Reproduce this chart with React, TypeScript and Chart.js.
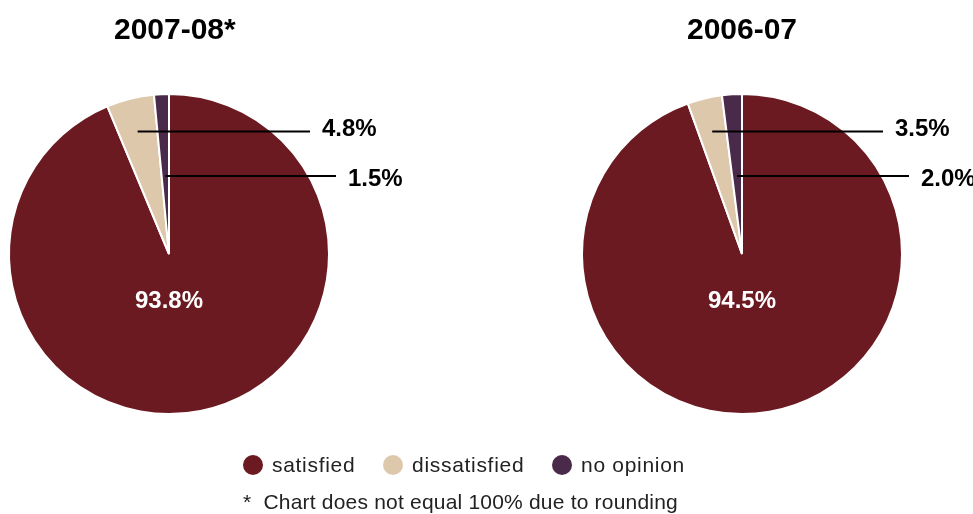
import React, { useEffect, useRef } from "react";
import { Chart, registerables } from "chart.js";

Chart.register(...registerables);

const categories = ["satisfied", "dissatisfied", "no opinion"];
const values0708 = [93.8, 4.8, 1.5];
const values0607 = [94.5, 3.5, 2.0];
const labels0708 = ["93.8%", "4.8%", "1.5%"];
const labels0607 = ["94.5%", "3.5%", "2.0%"];
const titles = ["2007-08*", "2006-07"];
const colors = ["#6B1A22", "#DEC8AC", "#4A2A4A"];
const footnote = "*  Chart does not equal 100% due to rounding";

const FONT = "'Liberation Sans', Arial, Helvetica, sans-serif";

// layout constants
const leaderY = [131.5, 176]; // y of leader lines for slice 1 and 2
const leaderEndDx = [141, 167]; // end of leader line relative to pie centre
const textDy = [-2, 3];
const textGap = 12;

function makePlugin(title: string, labels: string[]) {
  return {
    id: "annot",
    afterDraw(chart: any) {
      const ctx = chart.ctx;
      const meta = chart.getDatasetMeta(0);
      const arc0 = meta.data[0];
      const cx = arc0.x;
      const cy = arc0.y;
      ctx.save();
      // title
      ctx.fillStyle = "#000";
      ctx.font = `bold 30px ${FONT}`;
      ctx.textBaseline = "alphabetic";
      ctx.textAlign = "left";
      const core = title.replace(/\*$/, "");
      const w = ctx.measureText(core).width;
      ctx.fillText(title, cx - w / 2, 39);
      // centre label
      ctx.fillStyle = "#fff";
      ctx.font = `bold 24px ${FONT}`;
      ctx.textAlign = "center";
      ctx.textBaseline = "middle";
      ctx.fillText(labels[0], cx, cy + 47);
      // leaders
      for (let i = 1; i <= 2; i++) {
        const a: any = meta.data[i];
        const yL = leaderY[i - 1];
        const dy = yL - cy;
        const xs = [a.startAngle, a.endAngle].map(
          (ang: number) => cx + (dy * Math.cos(ang)) / Math.sin(ang)
        );
        const x0 = (xs[0] + xs[1]) / 2;
        const x1 = cx + leaderEndDx[i - 1];
        ctx.strokeStyle = "#000";
        ctx.lineWidth = 2;
        ctx.beginPath();
        ctx.moveTo(x0, yL);
        ctx.lineTo(x1, yL);
        ctx.stroke();
        ctx.fillStyle = "#000";
        ctx.font = `bold 24px ${FONT}`;
        ctx.textAlign = "left";
        ctx.textBaseline = "middle";
        ctx.fillText(labels[i], x1 + textGap, yL + textDy[i - 1]);
      }
      ctx.restore();
    },
  };
}

function PieChart(props: {
  values: number[];
  labels: string[];
  title: string;
  width: number;
  padding: { left: number; right: number; top: number; bottom: number };
  left: number;
}) {
  const ref = useRef<HTMLCanvasElement>(null);
  useEffect(() => {
    if (!ref.current) return;
    const chart = new Chart(ref.current, {
      type: "pie",
      data: {
        labels: categories,
        datasets: [
          {
            data: props.values,
            backgroundColor: colors,
            borderColor: "#fff",
            borderWidth: 2,
          },
        ],
      },
      options: {
        responsive: false,
        animation: false,
        devicePixelRatio: 1,
        layout: { padding: props.padding },
        plugins: {
          legend: { display: false },
          tooltip: { enabled: false },
          title: { display: false },
        },
      },
      plugins: [makePlugin(props.title, props.labels)],
    } as any);
    return () => chart.destroy();
  }, []);
  return (
    <canvas
      ref={ref}
      width={props.width}
      height={514}
      style={{
        position: "absolute",
        left: props.left,
        top: 0,
        width: props.width,
        height: 514,
      }}
    />
  );
}

const legendX = [253, 393, 562];

export default function App() {
  return (
    <div
      style={{
        position: "absolute",
        left: 0,
        top: 0,
        width: 973,
        height: 514,
        background: "#fff",
        overflow: "hidden",
        fontFamily: FONT,
      }}
    >
      <PieChart
        values={values0708}
        labels={labels0708}
        title={titles[0]}
        width={486}
        left={0}
        padding={{ left: 8, right: 156, top: 93, bottom: 99 }}
      />
      <PieChart
        values={values0607}
        labels={labels0607}
        title={titles[1]}
        width={487}
        left={486}
        padding={{ left: 95, right: 70, top: 93, bottom: 99 }}
      />
      {categories.map((c, i) => (
        <div
          key={c}
          style={{
            position: "absolute",
            left: legendX[i] - 10,
            top: 454,
            height: 22,
            display: "flex",
            alignItems: "center",
            whiteSpace: "nowrap",
          }}
        >
          <span
            style={{
              display: "inline-block",
              width: 20,
              height: 20,
              borderRadius: 10,
              background: colors[i],
              flex: "none",
            }}
          />
          <span style={{ marginLeft: 9, fontSize: 21, color: "#222", letterSpacing: 0.7 }}>
            {c}
          </span>
        </div>
      ))}
      <div
        style={{
          position: "absolute",
          left: 243,
          top: 490,
          fontSize: 21,
          color: "#222",
          whiteSpace: "pre",
          letterSpacing: 0.2,
        }}
      >
        {footnote}
      </div>
    </div>
  );
}
